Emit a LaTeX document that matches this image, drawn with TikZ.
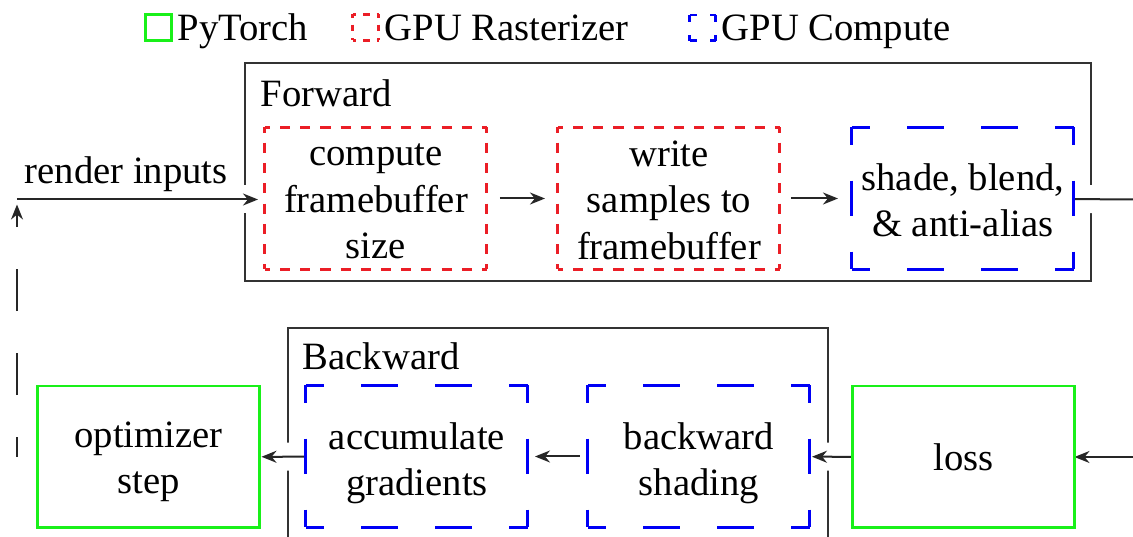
\documentclass[tikz,border=0pt]{standalone}
\usepackage{fontspec}
\setmainfont{Liberation Serif}
\usetikzlibrary{arrows.meta,positioning}

\definecolor{torchgreen}{RGB}{25,240,25}
\definecolor{rastred}{RGB}{235,30,38}
\definecolor{compblue}{RGB}{0,0,245}

\pgfdeclarelayer{groups}
\pgfdeclarelayer{links}
\pgfsetlayers{groups,links,main}

% dashed sides that start and end with half a dash, so every corner gets one
\newcommand{\cornersides}[4]{%
  \draw[#2, line width=0.03cm, dash pattern=on #3 off #3, dash phase=#3/2] (#1.north west) -- (#1.north east);
  \draw[#2, line width=0.03cm, dash pattern=on #3 off #3, dash phase=#3/2] (#1.south west) -- (#1.south east);
  \draw[#2, line width=0.03cm, dash pattern=on #4 off #4, dash phase=#4/2] (#1.north west) -- (#1.south west);
  \draw[#2, line width=0.03cm, dash pattern=on #4 off #4, dash phase=#4/2] (#1.north east) -- (#1.south east);
}

\tikzset{
  stage/.style={minimum width=2.22cm, minimum height=1.42cm, inner sep=0pt, outer sep=0pt},
  torch/.style={stage, draw=torchgreen, line width=0.03cm},
  says/.style={align=center, inner sep=0pt},
  group/.style={draw=black!80, line width=0.02cm, inner sep=0pt, outer sep=0pt},
  legbox/.style={minimum size=0.26cm, inner sep=0pt, outer sep=0pt},
  legtext/.style={anchor=base west, inner xsep=0.05cm, inner ysep=0pt},
  flow/.style={draw=black!85, line width=0.02cm, -{Stealth[length=0.15cm,width=0.12cm]},
    preaction={draw=white, line width=0.28cm, -}},
  loop/.style={draw=black!85, line width=0.02cm, -{Stealth[length=0.15cm,width=0.12cm]},
    dash pattern=on 0.42cm off 0.42cm, dash phase=0.22cm},
}

\begin{document}
\begin{tikzpicture}[font=\fontsize{11}{13.2}\selectfont]
  \useasboundingbox (0,0) rectangle (11.33,-5.37);

  % legend
  \node[legbox, draw=torchgreen, line width=0.03cm] (legtorch) at (1.59,-0.275) {};
  \node[legtext] at (legtorch.south east) {PyTorch};
  \node[legbox] (legrast) at (3.66,-0.275) {};
  \node[legtext] at (legrast.south east) {GPU Rasterizer};
  \node[legbox] (legcomp) at (7.03,-0.28) {};
  \node[legtext] at (legcomp.south east) {GPU Compute};
  \cornersides{legrast}{rastred}{0.0675cm}{0.0675cm}
  \cornersides{legcomp}{compblue}{0.135cm}{0.135cm}

  % stages
  \node[stage, label={[says, yshift=-0.03cm]center:{compute\\framebuffer\\size}}] (size) at (3.76,-1.985) {};
  \node[stage, label={[says, yshift=-0.015cm]center:{write\\samples to\\framebuffer}}] (write) at (6.69,-1.985) {};
  \node[stage, label={[says, yshift=-0.02cm]center:{shade, blend,\\\& anti-alias}}] (shade) at (9.63,-1.985) {};
  \node[torch, label={[says, yshift=-0.05cm]center:{optimizer\\step}}] (optim) at (1.485,-4.57) {};
  \node[stage, label={[says, yshift=-0.07cm]center:{accumulate\\gradients}}] (accum) at (4.17,-4.565) {};
  \node[stage, label={[says, yshift=-0.07cm]center:{backward\\shading}}] (backshade) at (6.99,-4.565) {};
  \node[torch, label={[says]center:loss}] (loss) at (9.635,-4.57) {};
  \cornersides{size}{rastred}{0.1009cm}{0.1014cm}
  \cornersides{write}{rastred}{0.1009cm}{0.1014cm}
  \cornersides{shade}{compblue}{0.37cm}{0.355cm}
  \cornersides{accum}{compblue}{0.37cm}{0.355cm}
  \cornersides{backshade}{compblue}{0.37cm}{0.355cm}

  \coordinate (loopfoot) at (0.17,-4.57);
  \coordinate (loophead) at (0.17,-1.995);
  \coordinate (fwdout) at (11.45,-1.995);
  \coordinate (lossin) at (11.45,-4.57);

  % passes
  \begin{pgfonlayer}{groups}
    \node[group, minimum width=8.46cm, minimum height=2.18cm] (forward) at (6.68,-1.72) {};
    \node[group, minimum width=5.40cm, minimum height=2.40cm] (backward) at (5.58,-4.48) {};
  \end{pgfonlayer}
  \node[anchor=base west, inner sep=0pt] at ([shift={(0.15,-0.44)}]forward.north west) {Forward};
  \node[anchor=base west, inner sep=0pt] at ([shift={(0.14,-0.42)}]backward.north west) {Backward};

  \begin{pgfonlayer}{links}
    \draw[flow, shorten >=0.07cm] (loophead) -- node[pos=0.44, anchor=base, yshift=0.16cm, inner sep=0pt] {render inputs} (loophead -| size.west);
    \draw[flow, shorten <=0.13cm, shorten >=0.13cm] (size) -- (write);
    \draw[flow, shorten <=0.11cm, shorten >=0.14cm] (write) -- (shade);
    \draw[flow, -] (shade) -- (fwdout);
    \draw[flow] (lossin) -- (loss);
    \draw[flow, shorten >=0.02cm] (loss) -- (backshade);
    \draw[flow, shorten <=0.08cm, shorten >=0.07cm] (backshade) -- (accum);
    \draw[flow, shorten >=0.02cm] (accum) -- (optim);
    \draw[loop, shorten >=0.05cm] (loopfoot) -- (loophead);
  \end{pgfonlayer}
\end{tikzpicture}
\end{document}
